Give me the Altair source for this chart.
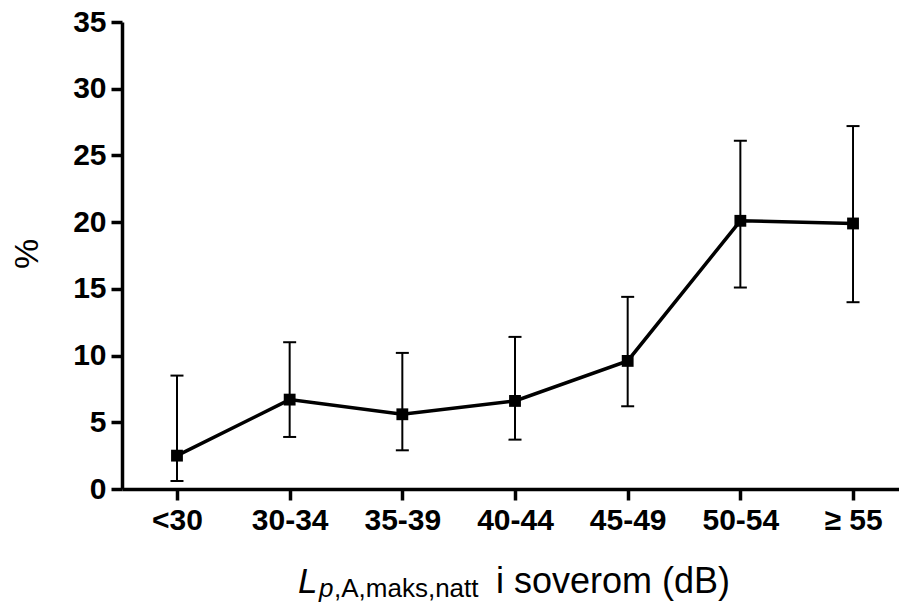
import json
import altair as alt
import pandas as pd

# Share of respondents (%) by maximum night-time indoor level, with 95% CI
categories = ["<30", "30-34", "35-39", "40-44", "45-49", "50-54", "≥ 55"]
pct = [2.5, 6.7, 5.6, 6.6, 9.6, 20.1, 19.9]
ci_low = [0.6, 3.9, 2.9, 3.7, 6.2, 15.1, 14.0]
ci_high = [8.5, 11.0, 10.2, 11.4, 14.4, 26.1, 27.2]
y_ticks = [0, 5, 10, 15, 20, 25, 30, 35]

df = pd.DataFrame({
    "idx": list(range(len(categories))),
    "kategori": categories,
    "pct": pct,
    "lo": ci_low,
    "hi": ci_high,
})

FONT = "Liberation Sans"
W, H = 777, 467

label_expr = json.dumps(categories) + "[datum.value]"

x_enc = alt.X(
    "idx:Q",
    scale=alt.Scale(domain=[-0.488, 6.408], nice=False, zero=False),
    axis=alt.Axis(
        values=list(range(len(categories))),
        labelExpr=label_expr,
        title=None,
        grid=False,
        domainColor="black",
        domainWidth=3.5,
        tickColor="black",
        tickWidth=3.5,
        tickSize=11,
        labelFont=FONT,
        labelFontSize=30,
        labelFontWeight="bold",
        labelColor="black",
        labelPadding=5,
    ),
)

y_scale = alt.Scale(domain=[0, 35], nice=False)
y_axis = alt.Axis(
    values=y_ticks,
    title=None,
    grid=False,
    domainColor="black",
    domainWidth=3.5,
    tickColor="black",
    tickWidth=3.5,
    tickSize=11,
    labelFont=FONT,
    labelFontSize=30,
    labelFontWeight="bold",
    labelColor="black",
    labelPadding=5,
)

base = alt.Chart(df)

# Confidence interval whiskers and caps
whiskers = base.mark_rule(color="black", strokeWidth=2).encode(
    x=x_enc,
    y=alt.Y("lo:Q", scale=y_scale, axis=y_axis),
    y2="hi:Q",
)
cap_lo = base.mark_tick(color="black", orient="horizontal", size=13, thickness=2, opacity=1).encode(
    x=x_enc,
    y=alt.Y("lo:Q", scale=y_scale, axis=y_axis),
)
cap_hi = base.mark_tick(color="black", orient="horizontal", size=13, thickness=2, opacity=1).encode(
    x=x_enc,
    y=alt.Y("hi:Q", scale=y_scale, axis=y_axis),
)

line = base.mark_line(color="black", strokeWidth=3.5).encode(
    x=x_enc,
    y=alt.Y("pct:Q", scale=y_scale, axis=y_axis),
)

points = base.mark_square(color="black", size=140, opacity=1, filled=True).encode(
    x=x_enc,
    y=alt.Y("pct:Q", scale=y_scale, axis=y_axis),
)


def text_piece(txt, x, y, size, style="normal", angle=0, align="left", baseline="alphabetic"):
    return alt.Chart(pd.DataFrame({"t": [txt]})).mark_text(
        font=FONT,
        fontSize=size,
        fontStyle=style,
        color="black",
        align=align,
        baseline=baseline,
        angle=angle,
    ).encode(text="t:N", x=alt.value(x), y=alt.value(y))


# Axis titles built from text pieces (italic L with subscript)
title_L = text_piece("L", 176, 571, 35, style="italic")
title_sub_p = text_piece("p", 197, 575, 26, style="italic")
title_sub_rest = text_piece(",A,maks,natt", 212, 575, 26)
title_main = text_piece("i soverom (dB)", 374, 571, 36)
y_title = text_piece("%", -94, 232, 34, angle=270, align="center", baseline="middle")

chart = alt.layer(
    whiskers, cap_lo, cap_hi, line, points,
    title_L, title_sub_p, title_sub_rest, title_main, y_title,
).properties(
    width=W,
    height=H,
    autosize=alt.AutoSizeParams(type="none"),
    padding={"left": 122, "top": 22, "right": 0, "bottom": 117},
    background="white",
).configure_view(stroke=None)

chart.save("out.html", embed_options={"renderer": "svg", "actions": False})
